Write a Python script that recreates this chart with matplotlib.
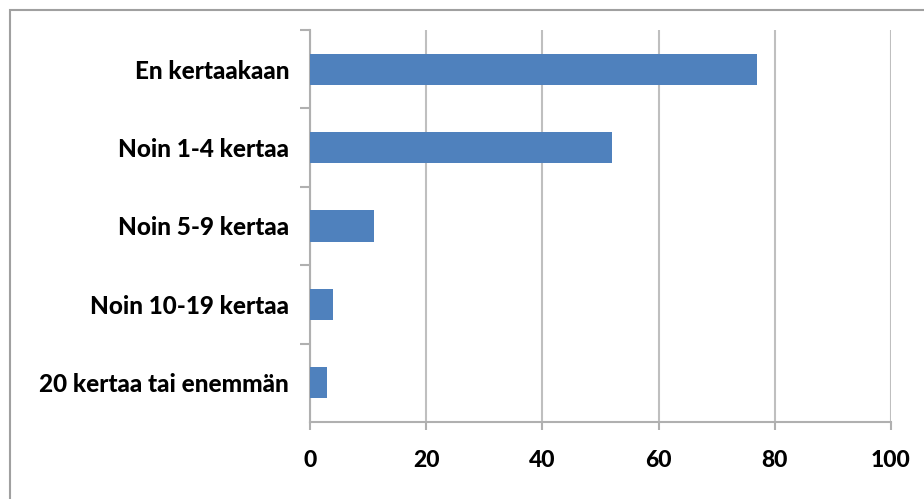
import matplotlib.pyplot as plt
from matplotlib.patches import Rectangle

# Data (top to bottom as in the chart)
categories = ['En kertaakaan', 'Noin 1-4 kertaa', 'Noin 5-9 kertaa',
              'Noin 10-19 kertaa', '20 kertaa tai enemmän']
values = [77, 52, 11, 4, 3]
xticks = [0, 20, 40, 60, 80, 100]

plt.rcParams['font.family'] = ['Lato', 'DejaVu Sans']

fig = plt.figure(figsize=(9.24, 4.99), dpi=100)
ax = fig.add_axes([310 / 924, 1 - 422 / 499, 581 / 924, 392 / 499])

pos = list(range(len(categories)))[::-1]
ax.barh(pos, values, height=0.4, color='#4F81BD', zorder=3)

ax.set_xlim(0, 100)
ax.set_ylim(-0.5, len(categories) - 0.5)
ax.set_xticks(xticks)
ax.set_xticklabels([str(t) for t in xticks], fontsize=16.5, fontweight='black')
ax.set_yticks(pos)
ax.set_yticklabels(categories, fontsize=17.5, fontweight='black')

# tick marks between categories on the y axis
ax.set_yticks([p + 0.5 for p in range(len(categories))], minor=True)
ax.tick_params(axis='y', which='major', length=0, pad=15)
ax.tick_params(axis='y', which='minor', length=7, width=1.5, color='#B0B0B0')
ax.tick_params(axis='x', length=6, width=1.5, color='#B0B0B0', pad=14)

ax.grid(axis='x', color='#BFBFBF', linewidth=1.5, zorder=0)
for s in ['top', 'right']:
    ax.spines[s].set_visible(False)
for s in ['left', 'bottom']:
    ax.spines[s].set_color('#B0B0B0')
    ax.spines[s].set_linewidth(1.5)

# chart area border (only top and left edges visible)
fig.patches.append(Rectangle((10 / 924, -0.1), 1.2, 1 - 10 / 499 + 0.1,
                             transform=fig.transFigure, fill=False,
                             edgecolor='#A0A0A0', linewidth=1.5))

fig.savefig('out.png', dpi=100)
